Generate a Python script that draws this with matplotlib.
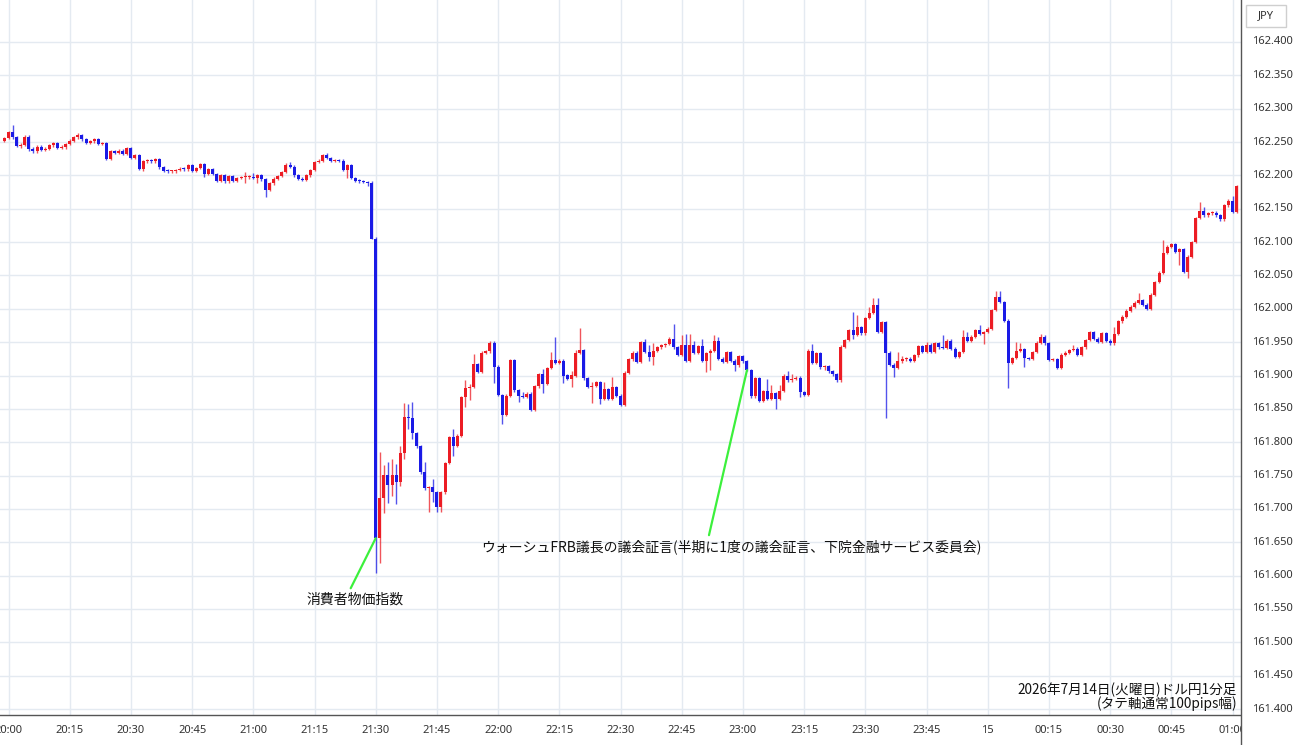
import numpy as np
import matplotlib
matplotlib.use("Agg")
import matplotlib.pyplot as plt
from matplotlib.patches import Rectangle
from matplotlib.lines import Line2D

plt.rcParams['font.family'] = ['Noto Sans', 'Noto Sans CJK JP', 'DejaVu Sans']

# ---------------- data (1-minute USD/JPY candles, minute index from 20:00) ----------------
first_minute = -1          # first candle is 19:59
first_open = 162.252
closes = [
    162.256, 162.265, 162.257, 162.244, 162.246, 162.258, 162.240, 162.236, 162.243, 162.238, 162.240,
    162.245, 162.248, 162.241, 162.242, 162.247, 162.252, 162.257, 162.260, 162.254, 162.249,
    162.251, 162.254, 162.247, 162.248, 162.225, 162.236, 162.234, 162.237, 162.232, 162.241,
    162.226, 162.230, 162.210, 162.221, 162.222, 162.221, 162.224, 162.212, 162.207, 162.206,
    162.206, 162.208, 162.210, 162.209, 162.215, 162.207, 162.211, 162.217, 162.202, 162.209,
    162.202, 162.192, 162.200, 162.191, 162.199, 162.192, 162.196, 162.197, 162.197, 162.198,
    162.196, 162.200, 162.194, 162.178, 162.188, 162.195, 162.199, 162.205, 162.216, 162.213,
    162.200, 162.195, 162.193, 162.200, 162.208, 162.220, 162.222, 162.230, 162.226, 162.222,
    162.223, 162.222, 162.208, 162.215, 162.196, 162.192, 162.191, 162.190, 162.189, 162.105,
    161.656, 161.716, 161.751, 161.736, 161.751, 161.740, 161.784, 161.838, 161.836, 161.814,
    161.794, 161.755, 161.731, 161.733, 161.725, 161.703, 161.725, 161.769, 161.808, 161.795,
    161.810, 161.868, 161.881, 161.883, 161.917, 161.905, 161.934, 161.936, 161.949, 161.913,
    161.871, 161.841, 161.870, 161.923, 161.878, 161.870, 161.868, 161.873, 161.849, 161.884,
    161.902, 161.888, 161.911, 161.923, 161.919, 161.922, 161.900, 161.895, 161.900, 161.934,
    161.938, 161.896, 161.883, 161.885, 161.890, 161.865, 161.880, 161.865, 161.883, 161.870,
    161.856, 161.904, 161.924, 161.934, 161.920, 161.950, 161.935, 161.928, 161.937, 161.942,
    161.945, 161.947, 161.955, 161.942, 161.931, 161.945, 161.922, 161.945, 161.934, 161.944,
    161.922, 161.933, 161.937, 161.952, 161.925, 161.920, 161.935, 161.922, 161.915, 161.929,
    161.921, 161.908, 161.869, 161.896, 161.862, 161.877, 161.865, 161.874, 161.865, 161.877,
    161.900, 161.893, 161.895, 161.897, 161.875, 161.871, 161.937, 161.919, 161.933, 161.912,
    161.914, 161.906, 161.902, 161.893, 161.943, 161.953, 161.968, 161.961, 161.972, 161.963,
    161.986, 161.994, 162.006, 161.965, 161.980, 161.934, 161.916, 161.911, 161.921, 161.924,
    161.925, 161.922, 161.930, 161.944, 161.935, 161.946, 161.935, 161.948, 161.942, 161.941,
    161.952, 161.940, 161.928, 161.935, 161.958, 161.952, 161.958, 161.968, 161.962, 161.965,
    161.970, 161.998, 162.018, 162.010, 161.982, 161.919, 161.926, 161.937, 161.939, 161.926,
    161.925, 161.935, 161.949, 161.958, 161.948, 161.923, 161.924, 161.911, 161.931, 161.934,
    161.938, 161.940, 161.931, 161.942, 161.953, 161.965, 161.955, 161.950, 161.963, 161.952,
    161.948, 161.962, 161.981, 161.988, 161.997, 162.003, 162.009, 162.013, 162.006, 162.000,
    162.021, 162.040, 162.054, 162.084, 162.093, 162.097, 162.085, 162.089, 162.055, 162.078,
    162.100, 162.136, 162.146, 162.140, 162.143, 162.144, 162.140, 162.134, 162.155, 162.162,
    162.145, 162.184,
]
# wick lengths beyond the body, in 0.001 yen; default 2
upper_wick = {1: 11, 3: 3, 13: 3, 17: 4, 58: 8, 60: 5, 69: 4, 78: 4, 91: 69, 92: 15, 93: 19,
              94: 24, 95: 17, 96: 11, 97: 21, 98: 20, 99: 25, 102: 15, 104: 12, 109: 12, 112: 12,
              113: 5, 114: 15, 126: 5, 131: 8, 133: 12, 134: 35, 138: 6, 139: 4, 140: 33, 143: 6,
              146: 10, 148: 15, 156: 5, 157: 11, 158: 11, 163: 22, 165: 15, 166: 17, 167: 17,
              168: 7, 170: 11, 173: 8, 174: 5, 186: 18, 187: 12, 189: 9, 191: 6, 192: 7, 197: 10,
              207: 27, 208: 18, 211: 9, 212: 10, 213: 10, 218: 14, 219: 5, 225: 4, 229: 18,
              234: 10, 235: 7, 238: 8, 242: 9, 243: 9, 247: 13, 248: 9, 253: 4, 261: 6, 271: 10,
              277: 11, 283: 19, 292: 14, 293: 7, 300: 7}
lower_wick = {3: 3, 5: 3, 6: 3, 33: 3, 48: 4, 58: 9, 61: 8, 63: 11, 83: 12, 88: 5, 89: 0,
              90: 52, 91: 37, 92: 22, 93: 27, 94: 16, 95: 32, 96: 5, 97: 9, 98: 16, 99: 9,
              103: 36, 104: 15, 105: 8, 106: 8, 109: 15, 112: 15, 113: 18, 119: 24, 121: 14,
              125: 10, 131: 14, 136: 11, 138: 12, 143: 24, 145: 7, 157: 6, 158: 13, 171: 17,
              172: 25, 178: 8, 188: 15, 194: 7, 200: 4, 207: 6, 215: 98, 217: 13, 239: 15,
              245: 38, 249: 13, 287: 19, 289: 9}

price_ticks = [161.40, 161.45, 161.50, 161.55, 161.60, 161.65, 161.70, 161.75, 161.80, 161.85,
               161.90, 161.95, 162.00, 162.05, 162.10, 162.15, 162.20, 162.25, 162.30, 162.35, 162.40]
time_ticks = [0, 15, 30, 45, 60, 75, 90, 105, 120, 135, 150, 165, 180, 195, 210, 225, 240,
              255, 270, 285, 300]
time_labels = ["20:00", "20:15", "20:30", "20:45", "21:00", "21:15", "21:30", "21:45", "22:00",
               "22:15", "22:30", "22:45", "23:00", "23:15", "23:30", "23:45", "15", "00:15",
               "00:30", "00:45", "01:00"]

cpi_label = "消費者物価指数"
cpi_minute = 90
warsh_label = "ウォーシュFRB議長の議会証言(半期に1度の議会証言、下院金融サービス委員会)"
warsh_minute = 181
footer = "2026年7月14日(火曜日)ドル円1分足\n(タテ軸通常100pips幅)"

# ---------------- build OHLC ----------------
c = np.array(closes)
o = np.concatenate([[first_open], c[:-1]])
x = np.arange(first_minute, first_minute + len(c))
up = c >= o
top = np.maximum(o, c)
bot = np.minimum(o, c)
hw = np.array([upper_wick.get(int(i), 2) for i in x]) * 0.001
lw_ = np.array([lower_wick.get(int(i), 2) for i in x]) * 0.001
hi = top + hw
lo = bot - lw_
RED = '#ec1c24'
BLUE = '#1a1ae6'
cols = np.where(up, RED, BLUE)

# ---------------- figure ----------------
W, H = 1300, 745
fig = plt.figure(figsize=(W / 100, H / 100), dpi=100)
ax_right_px = 1241
ax_bottom_px = 715
ax = fig.add_axes([0, (H - ax_bottom_px) / H, ax_right_px / W, ax_bottom_px / H])

px_per_min = 4.08
x0_px = 8.5
ax.set_xlim(-x0_px / px_per_min, (ax_right_px - x0_px) / px_per_min)
px_per_yen = 667.0
ax.set_ylim(162.40 - (ax_bottom_px - 42) / px_per_yen, 162.40 + 42 / px_per_yen)

ax.set_yticks(price_ticks)
ax.set_xticks(time_ticks)
ax.set_xticklabels(time_labels)
ax.grid(True, color='#e4eaf1', lw=1.0, zorder=0)
ax.tick_params(axis='y', left=False, labelleft=False, right=False, labelright=False)
ax.tick_params(axis='x', length=0, pad=7, labelsize=8, colors='#333333')
for s in ['left', 'top', 'right']:
    ax.spines[s].set_visible(False)
ax.spines['bottom'].set_color('#555555')
ax.spines['bottom'].set_linewidth(1.0)

# wicks and bodies
ax.vlines(x, lo, hi, colors=cols, lw=1.0, alpha=0.75, zorder=2)
ax.bar(x, np.maximum(top - bot, 0.0015), bottom=bot, width=0.74, color=cols, linewidth=0, zorder=3)

# annotations
GREEN = '#3cf03c'
cpi_y = closes[cpi_minute - first_minute]
ax.annotate('', xy=(cpi_minute, cpi_y), xytext=(-25, -50), textcoords='offset pixels',
            arrowprops=dict(arrowstyle='-', color=GREEN, lw=1.6, shrinkA=0, shrinkB=0), zorder=5)
ax.annotate(cpi_label, xy=(cpi_minute, cpi_y), xytext=(-21, -61), textcoords='offset pixels',
            ha='center', va='center', fontsize=10, family=['Noto Sans CJK JP'], color='#111111')
w_y = closes[warsh_minute - first_minute]
ax.annotate('', xy=(warsh_minute, w_y), xytext=(-38, -165), textcoords='offset pixels',
            arrowprops=dict(arrowstyle='-', color=GREEN, lw=1.6, shrinkA=0, shrinkB=0), zorder=5)
ax.annotate(warsh_label, xy=(warsh_minute, w_y), xytext=(-16, -177), textcoords='offset pixels',
            ha='center', va='center', fontsize=10, family=['Noto Sans CJK JP'], color='#111111')

ax.text(1237 / ax_right_px, (ax_bottom_px - 697) / ax_bottom_px, footer, transform=ax.transAxes,
        ha='right', va='center', fontsize=9.8, family=['Noto Sans CJK JP'], color='#111111',
        linespacing=0.95, multialignment='right')

# right price panel
fig.add_artist(Rectangle((ax_right_px / W, 0), 1 - ax_right_px / W, 1, transform=fig.transFigure,
                         facecolor='white', edgecolor='none', zorder=1))
for p in price_ticks:
    ypx = 42 + (162.40 - p) * px_per_yen
    fig.text(1272 / W, 1 - ypx / H, f"{p:.3f}", ha='center', va='center', fontsize=8,
             color='#333333', zorder=2)
fig.add_artist(Line2D([ax_right_px / W, ax_right_px / W], [0, 1], transform=fig.transFigure,
                      color='#555555', lw=1.0, zorder=3))
fig.add_artist(Rectangle((1246 / W, 1 - 27 / H), 40 / W, 22 / H, transform=fig.transFigure,
                         facecolor='white', edgecolor='#cfcfcf', lw=1.0, zorder=3))
fig.text(1266 / W, 1 - 16 / H, "JPY", ha='center', va='center', fontsize=8, color='#333333', zorder=4)

fig.savefig("out.png", dpi=100)
